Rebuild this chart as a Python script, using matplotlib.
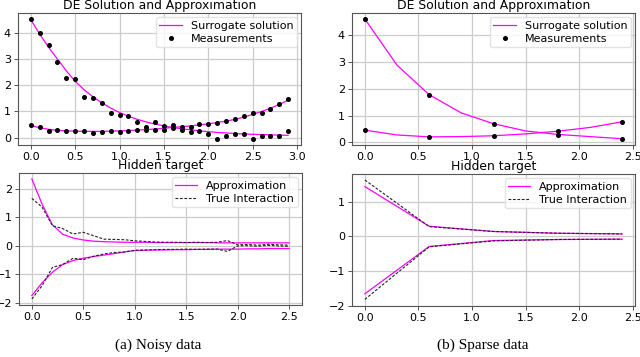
import numpy as np
import matplotlib
matplotlib.use("Agg")
import matplotlib.pyplot as plt

# ---------------- data ----------------
# (a) noisy data, DE solution
t_noisy = [round(0.1 * i, 1) for i in range(30)]
surr_a_prey = [4.50, 3.95, 3.45, 3.00, 2.55, 2.15, 1.83, 1.56, 1.33, 1.13,
               0.96, 0.82, 0.70, 0.60, 0.52, 0.45, 0.39, 0.34, 0.30, 0.26,
               0.23, 0.20, 0.18, 0.16, 0.14, 0.13, 0.12, 0.11, 0.10, 0.09]
surr_a_pred = [0.46, 0.38, 0.32, 0.28, 0.26, 0.25, 0.24, 0.24, 0.24, 0.25,
               0.26, 0.27, 0.29, 0.31, 0.33, 0.36, 0.39, 0.42, 0.45, 0.49,
               0.53, 0.58, 0.63, 0.70, 0.78, 0.89, 1.00, 1.12, 1.27, 1.43]
meas_a_prey = [4.53, 3.99, 3.54, 2.87, 2.26, 2.24, 1.57, 1.52, 1.32, 0.94,
               0.88, 0.84, 0.61, 0.39, 0.61, 0.46, 0.37, 0.30, 0.23, 0.27,
               0.15, -0.05, 0.06, 0.15, 0.15, -0.05, 0.08, 0.08, 0.08, 0.24]
meas_a_pred = [0.48, 0.42, 0.25, 0.30, 0.24, 0.25, 0.24, 0.19, 0.22, 0.27,
               0.20, 0.24, 0.30, 0.29, 0.28, 0.28, 0.47, 0.39, 0.42, 0.51,
               0.51, 0.57, 0.65, 0.70, 0.84, 0.93, 0.94, 1.10, 1.28, 1.46]

# (b) sparse data, DE solution
t_sparse_fine = [0.0, 0.3, 0.6, 0.9, 1.2, 1.5, 1.8, 2.1, 2.4]
surr_b_prey = [4.60, 2.88, 1.78, 1.10, 0.70, 0.43, 0.30, 0.22, 0.14]
surr_b_pred = [0.46, 0.28, 0.21, 0.22, 0.25, 0.32, 0.42, 0.56, 0.77]
t_sparse = [0.0, 0.6, 1.2, 1.8, 2.4]
meas_b_prey = [4.59, 1.78, 0.68, 0.28, 0.13]
meas_b_pred = [0.46, 0.21, 0.23, 0.42, 0.76]

# (a) hidden target
t_hid_a = [round(0.1 * i, 1) for i in range(26)]
approx_a_top = [2.34, 1.45, 0.73, 0.40, 0.27, 0.20, 0.16, 0.14, 0.13, 0.12,
                0.12, 0.12, 0.11, 0.11, 0.11, 0.11, 0.11, 0.11, 0.10, 0.10,
                0.10, 0.10, 0.10, 0.10, 0.10, 0.10]
approx_a_bot = [-1.75, -1.30, -0.93, -0.66, -0.52, -0.44, -0.38, -0.33, -0.28, -0.22,
                -0.17, -0.16, -0.15, -0.15, -0.14, -0.14, -0.13, -0.13, -0.12, -0.12,
                -0.12, -0.11, -0.11, -0.10, -0.10, -0.10]
true_a_top = [1.66, 1.35, 0.70, 0.60, 0.41, 0.47, 0.35, 0.23, 0.22, 0.21,
              0.17, 0.15, 0.13, 0.12, 0.12, 0.11, 0.12, 0.11, 0.12, 0.18,
              0.03, 0.04, 0.02, 0.05, 0.03, 0.02]
true_a_bot = [-1.87, -1.40, -0.76, -0.66, -0.44, -0.49, -0.37, -0.29, -0.24, -0.22,
              -0.16, -0.15, -0.14, -0.13, -0.13, -0.12, -0.13, -0.12, -0.12, -0.20,
              -0.01, 0.00, -0.02, 0.01, -0.01, -0.02]

# (b) hidden target
t_hid_b = [0.0, 0.6, 1.2, 1.8, 2.4]
approx_b_top = [1.43, 0.29, 0.14, 0.09, 0.07]
approx_b_bot = [-1.65, -0.29, -0.12, -0.09, -0.08]
true_b_top = [1.62, 0.28, 0.14, 0.09, 0.07]
true_b_bot = [-1.81, -0.30, -0.13, -0.09, -0.08]

captions = ["(a) Noisy data", "(b) Sparse data"]

# ---------------- style ----------------
MAG = "#ff00ff"
plt.rcParams["font.family"] = ["DejaVu Sans"]
plt.rcParams["font.size"] = 8

fig = plt.figure(figsize=(6.4, 3.57), dpi=100)

W = 283 / 640
H = 132 / 357
ax_tl = fig.add_axes([18 / 640, (357 - 145) / 357, W, H])
ax_tr = fig.add_axes([352 / 640, (357 - 145) / 357, 283 / 640, H])
ax_bl = fig.add_axes([19 / 640, (357 - 305) / 357, W, H])
ax_br = fig.add_axes([352 / 640, (357 - 306) / 357, 283 / 640, H])

LEG = dict(loc="upper right", fontsize=8, framealpha=0.8, edgecolor="#dddddd",
           borderpad=0.3, labelspacing=0.3, handlelength=2.0, handletextpad=0.8,
           borderaxespad=0.4, fancybox=True)


def style(ax):
    ax.grid(True, color="#cccccc", lw=0.9)
    ax.set_axisbelow(True)
    for s in ax.spines.values():
        s.set_color("#555555")
        s.set_linewidth(0.8)
    ax.tick_params(labelsize=8, length=3, width=0.7, color="#555555", pad=2)


def de_panel(ax, tf, p, q, tm, mp, mq):
    ax.plot(tf, p, color=MAG, lw=0.9, label="Surrogate solution")
    ax.plot(tf, q, color=MAG, lw=0.9)
    ax.plot(tm, mp, "o", color="black", ms=2.6, label="Measurements")
    ax.plot(tm, mq, "o", color="black", ms=2.6)
    ax.set_title("DE Solution and Approximation", fontsize=8.9, pad=3)
    ax.legend(**LEG)
    style(ax)


def hid_panel(ax, t, at, ab, tt, tb):
    ax.plot(t, at, color=MAG, lw=0.9, label="Approximation")
    ax.plot(t, ab, color=MAG, lw=0.9)
    ax.plot(t, tt, "--", color="#222222", lw=0.8, dashes=(2.5, 1.5), label="True Interaction")
    ax.plot(t, tb, "--", color="#222222", lw=0.8, dashes=(2.5, 1.5))
    ax.set_title("Hidden target", fontsize=8.9, pad=3)
    ax.legend(**LEG)
    style(ax)


de_panel(ax_tl, t_noisy, surr_a_prey, surr_a_pred, t_noisy, meas_a_prey, meas_a_pred)
ax_tl.set_yticks([0, 1, 2, 3, 4])
de_panel(ax_tr, t_sparse_fine, surr_b_prey, surr_b_pred, t_sparse, meas_b_prey, meas_b_pred)
ax_tr.set_yticks([0, 1, 2, 3, 4])
ax_tr.set_xticks([0, 0.5, 1.0, 1.5, 2.0, 2.5])

hid_panel(ax_bl, t_hid_a, approx_a_top, approx_a_bot, true_a_top, true_a_bot)
ax_bl.set_yticks([-2, -1, 0, 1, 2])
hid_panel(ax_br, t_hid_b, approx_b_top, approx_b_bot, true_b_top, true_b_bot)
ax_br.set_yticks([-2, -1, 0, 1])
ax_br.set_xticks([0, 0.5, 1.0, 1.5, 2.0, 2.5])

fig.text(158 / 640, 1 - 345 / 357, captions[0], ha="center", va="center",
         family="Liberation Serif", fontsize=11)
fig.text(483 / 640, 1 - 345 / 357, captions[1], ha="center", va="center",
         family="Liberation Serif", fontsize=11)

fig.savefig("out.png", dpi=100)
